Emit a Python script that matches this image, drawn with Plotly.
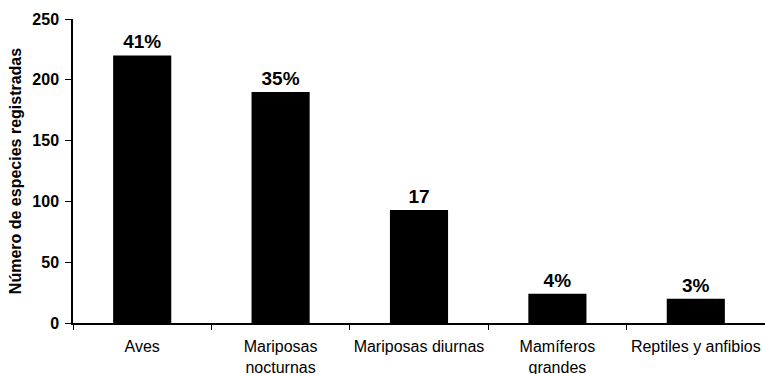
import plotly.graph_objects as go

# Species groups recorded and number of species per group
categorias = ["Aves", "Mariposas<br>nocturnas", "Mariposas diurnas",
              "Mamíferos<br>grandes", "Reptiles y anfibios"]
especies = [220, 190, 93, 24, 20]
etiquetas = ["41%", "35%", "17", "4%", "3%"]
y_ticks = [0, 50, 100, 150, 200, 250]

FONT = "Liberation Sans, Arial, Helvetica, sans-serif"

fig = go.Figure(
    go.Bar(
        x=categorias,
        y=especies,
        text=etiquetas,
        textposition="outside",
        textfont=dict(family=FONT, size=19, color="black", weight="bold"),
        marker=dict(color="black", line=dict(width=0)),
        cliponaxis=False,
    )
)

fig.update_layout(
    width=765,
    height=374,
    margin=dict(l=73, r=0, t=19, b=51),
    paper_bgcolor="white",
    plot_bgcolor="white",
    bargap=0.58,
    showlegend=False,
    font=dict(family=FONT, color="black"),
)

fig.update_xaxes(
    automargin=False,
    tickangle=0,
    showline=True,
    linecolor="black",
    linewidth=1.5,
    ticks="outside",
    tickson="boundaries",
    ticklen=5,
    tickcolor="black",
    tickfont=dict(family=FONT, size=16, color="black"),
    ticklabelstandoff=8,
    showgrid=False,
)

fig.update_yaxes(
    automargin=False,
    range=[0, 250],
    tickvals=y_ticks,
    showline=True,
    linecolor="black",
    linewidth=1.5,
    ticks="outside",
    ticklen=6,
    tickcolor="black",
    tickfont=dict(family=FONT, size=16, color="black", weight="bold"),
    ticklabelstandoff=3,
    showgrid=False,
    zeroline=False,
    title=dict(text="Número de especies registradas",
               font=dict(family=FONT, size=16, color="black", weight="bold"),
               standoff=7),
)

fig.write_html("out.html")
